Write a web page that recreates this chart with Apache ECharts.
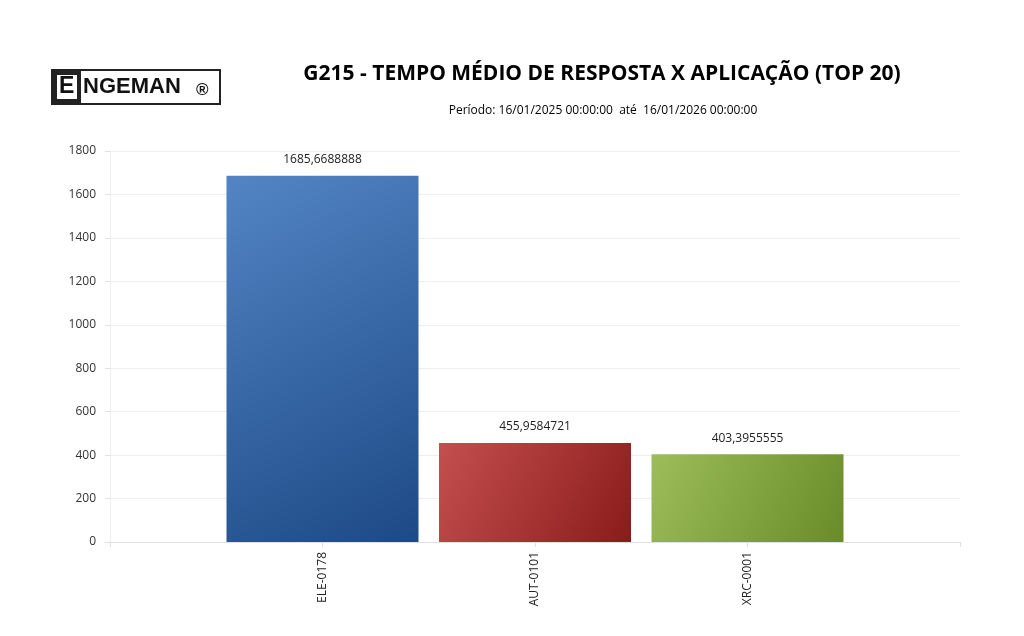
<!DOCTYPE html>
<html>
<head>
<meta charset="utf-8">
<script src="https://cdn.jsdelivr.net/npm/echarts@6/dist/echarts.min.js"></script>
<style>html,body{margin:0;padding:0;background:#fff}#main{width:1024px;height:636px}</style>
</head>
<body>
<div id="main"></div>
<script>
var categories = ['', 'ELE-0178', 'AUT-0101', 'XRC-0001', ''];
var values = [null, 1685.6688888, 455.9584721, 403.3955555, null];
var colorsTop = ['', '#5384c4', '#c4504e', '#9cbd5a', ''];
var colorsBottom = ['', '#1d4a86', '#8a1b1b', '#6a8c28', ''];

var myChart = echarts.init(document.getElementById('main'));
var barData = values.map(function (v, i) {
    if (v === null) return null;
    return {
        value: v,
        itemStyle: {
            color: new echarts.graphic.LinearGradient(0, 0, 1, 1, [
                { offset: 0, color: colorsTop[i] },
                { offset: 1, color: colorsBottom[i] }
            ])
        }
    };
});
var font = '"Open Sans", "Noto Sans", sans-serif';
option = {
    animation: false,
    title: [{
        text: 'G215 - TEMPO MÉDIO DE RESPOSTA X APLICAÇÃO (TOP 20)',
        left: 597, top: 59, textAlign: 'center',
        textStyle: { fontSize: 21, fontWeight: 'bold', color: '#000', fontFamily: font, letterSpacing: 0.3 }
    }, {
        text: 'Período: 16/01/2025 00:00:00  até  16/01/2026 00:00:00',
        left: 598, top: 100, textAlign: 'center',
        textStyle: { fontSize: 12, fontWeight: 'normal', color: '#000', fontFamily: font }
    }],
    graphic: [
        { type: 'rect', shape: { x: 52, y: 70, width: 168, height: 34 }, style: { fill: '#fff', stroke: '#222', lineWidth: 2 } },
        { type: 'rect', shape: { x: 53, y: 71, width: 28, height: 32 }, style: { fill: '#222' } },
        { type: 'rect', shape: { x: 57, y: 75, width: 20, height: 24 }, style: { fill: '#fff' } },
        { type: 'text', left: 59, top: 75, style: { text: 'E', font: 'bold 23px "Liberation Sans", sans-serif', fill: '#111' } },
        { type: 'text', left: 83, top: 76, style: { text: 'NGEMAN', font: 'bold 22px "Liberation Sans", sans-serif', fill: '#111', letterSpacing: 1 } },
        { type: 'text', left: 196, top: 82, style: { text: '®', font: 'bold 17px "Liberation Sans", sans-serif', fill: '#111' } }
    ],
    grid: { left: 110, right: 64, top: 151, bottom: 94 },
    xAxis: {
        type: 'category',
        data: categories,
        boundaryGap: false,
        axisLine: { lineStyle: { color: '#e0e0e0' } },
        axisTick: { show: true, alignWithLabel: true, lineStyle: { color: '#e0e0e0' } },
        axisLabel: { rotate: 90, color: '#222', fontSize: 12, fontFamily: font, interval: 0, margin: 10 },
        splitLine: { show: false }
    },
    yAxis: {
        type: 'value',
        min: 0, max: 1800, interval: 200,
        axisLine: { show: true, lineStyle: { color: '#eeeeee' } },
        axisTick: { show: true, length: 5, lineStyle: { color: '#e0e0e0' } },
        axisLabel: { color: '#333', fontSize: 12, fontFamily: font, margin: 14, formatter: function (v) { return String(v); } },
        splitLine: { lineStyle: { color: '#eeeeee' } }
    },
    series: [{
        type: 'bar',
        barWidth: 192,
        data: barData,
        label: {
            show: true, position: 'top', distance: 10,
            color: '#222', fontSize: 12, fontFamily: font,
            formatter: function (p) { return String(p.value).replace('.', ','); }
        }
    }]
};
myChart.setOption(option, true);
</script>
</body>
</html>
